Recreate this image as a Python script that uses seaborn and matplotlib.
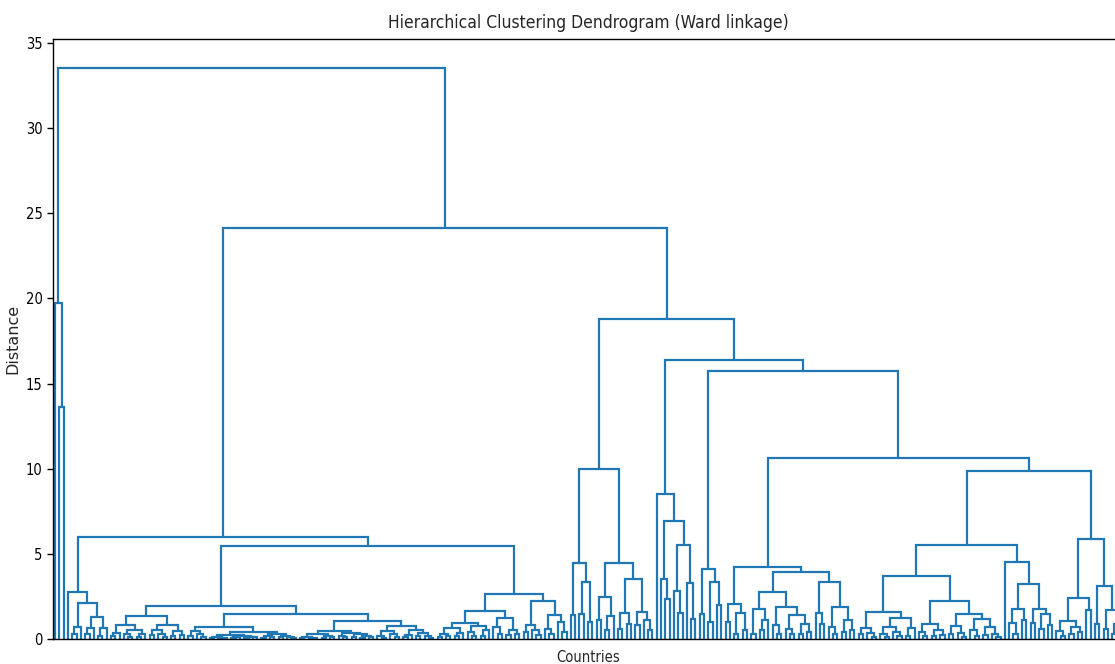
import matplotlib
matplotlib.use("Agg")
import matplotlib.pyplot as plt
import seaborn as sns
import pandas as pd

# ---------------- data: merge trees (leaf = 0, merge = [distance, left, right]) -------------
OUTLIERS = [19.7, 0, [13.6, 0, 0]]

C1 = [2.76, 0, [2.1, [0.72, [0.3, 0, 0], 0],
                [1.3, [0.65, [0.3, 0, 0], 0], [0.62, [0.2, 0, 0], 0]]]]

C2A1 = [1.37,
        [0.82, [0.38, [0.15, 0, 0], 0],
               [0.55, [0.28, 0, [0.1, 0, 0]], [0.3, [0.12, 0, 0], 0]]],
        [0.8, [0.5, [0.22, 0, 0], [0.3, 0, [0.12, 0, 0]]],
              [0.45, [0.2, 0, 0], [0.25, 0, 0]]]]

C2A2_P = [0.69,
          [0.45, [0.2, 0, 0], [0.3, 0, [0.1, 0, 0]]],
          [0.42, [0.25, [0.12, [0.05, 0, 0], [0.08, 0, [0.03, 0, 0]]],
                        [0.18, [0.1, [0.04, 0, 0], 0], [0.14, [0.06, 0, 0], [0.09, 0, 0]]]],
                 [0.3, [0.15, [0.06, 0, 0], [0.09, 0, 0]],
                       [0.2, [0.1, 0, 0], [0.12, 0, [0.04, 0, 0]]]]]]

C2A2_Q = [1.08,
          [0.45, [0.3, [0.12, [0.05, 0, 0], [0.07, 0, [0.03, 0, 0]]],
                       [0.18, [0.08, 0, 0], [0.1, 0, 0]]],
                 [0.38, [0.2, 0, [0.1, 0, 0]],
                        [0.28, [0.12, 0, 0], [0.2, [0.07, 0, 0], [0.1, 0, 0]]]]],
          [0.76, [0.45, [0.2, 0, [0.05, 0, 0]], [0.3, 0, [0.1, 0, 0]]],
                 [0.55, [0.25, [0.1, 0, 0], 0], [0.35, [0.15, 0, 0], [0.2, 0, [0.08, 0, 0]]]]]]

C2B = [2.64,
       [1.66, [0.96, [0.64, [0.3, [0.1, 0, 0], [0.15, 0, 0]], [0.35, [0.15, 0, 0], 0]],
                     [0.78, [0.4, 0, [0.2, 0, 0]], [0.5, [0.2, 0, 0], 0]]],
              [1.21, [0.7, 0, [0.3, 0, 0]], [0.5, [0.25, 0, 0], [0.3, 0, 0]]]],
       [2.23, [0.82, [0.4, 0, 0], [0.5, 0, [0.25, 0, 0]]],
              [1.4, [0.6, 0, [0.3, 0, 0]], [1.0, 0, [0.4, 0, 0]]]]]

D1 = [10.0,
      [4.45, [1.4, 0, 0], [3.35, [1.47, 0, 0], [1.0, 0, 0]]],
      [4.45, [2.45, [1.1, 0, 0], [1.35, [0.5, 0, 0], 0]],
             [3.5, [1.5, [0.6, 0, 0], [0.9, 0, 0]],
                   [1.6, [0.8, 0, 0], [1.1, 0, [0.5, 0, 0]]]]]]

D2A = [8.5, 0, [6.95, [3.5, 0, [2.35, 0, 0]],
                [5.5, [2.82, 0, [1.5, 0, 0]], [3.3, 0, [1.2, 0, 0]]]]]

D2B1 = [4.1, [1.47, 0, 0], [3.35, [1.0, 0, 0], [2.0, 0, 0]]]

E = [4.23,
     [2.05, [1.02, 0, 0], [1.5, [0.3, 0, 0], [0.5, 0, 0]]],
     [3.94, [2.74, [1.74, [0.3, 0, 0], [1.1, [0.5, 0, 0], 0]],
                   [1.86, [0.8, 0, [0.3, 0, 0]],
                          [1.43, [0.6, 0, [0.3, 0, 0]], [0.9, [0.3, 0, 0], [0.4, 0, 0]]]]],
            [3.37, [1.55, 0, [0.9, 0, 0]],
                   [1.9, [0.7, 0, [0.3, 0, 0]], [1.1, [0.4, 0, 0], [0.5, 0, 0]]]]]]

FLL = [3.72,
       [1.57, [0.63, [0.3, 0, 0], [0.35, 0, [0.1, 0, 0]]],
              [1.21, [0.72, [0.3, 0, [0.1, 0, 0]], [0.4, 0, [0.15, 0, 0]]],
                     [0.65, [0.2, 0, 0], 0]]],
       [2.23, [0.88, [0.4, 0, [0.15, 0, 0]], [0.5, [0.2, 0, 0], [0.25, 0, 0]]],
              [1.47, [0.76, [0.3, 0, 0], [0.35, 0, [0.1, 0, 0]]],
                     [1.16, [0.5, 0, [0.2, 0, 0]], [0.7, [0.25, 0, 0], [0.3, 0, [0.1, 0, 0]]]]]]]

FLR = [4.5, 0, [3.2, [1.74, [0.92, 0, [0.3, 0, 0]], [1.1, 0, 0]],
                [1.74, [0.92, 0, 0], [1.47, [0.6, 0, 0], [0.8, 0, 0]]]]]

FR = [5.87,
      [2.39, [1.06, [0.45, 0, [0.2, 0, 0]], [0.7, [0.3, 0, 0], [0.4, 0, 0]]], [1.7, 0, 0]],
      [3.11, [0.9, 0, 0], [1.7, [0.6, 0, 0], [0.9, [0.3, 0, 0], 0]]]]

# upper merges
CLUSTER_C = [5.99, C1, [5.46, [1.94, C2A1, [1.47, C2A2_P, C2A2_Q]], C2B]]
CLUSTER_F = [9.86, [5.5, FLL, FLR], FR]
CLUSTER_D = [18.79, D1, [16.38, D2A, [15.74, D2B1, [10.63, E, CLUSTER_F]]]]
ROOT = [33.55, OUTLIERS, [24.13, CLUSTER_C, CLUSTER_D]]

TITLE = "Hierarchical Clustering Dendrogram (Ward linkage)"
XLABEL = "Countries"
YLABEL = "Distance"

# ---------------- layout of the tree (scipy-like: leaves at 5, 15, 25, ...) -------------
rows = []
counter = [0]
links = [0]


def place(node):
    if node == 0:
        x = 5.0 + 10.0 * counter[0]
        counter[0] += 1
        return x, 0.0
    h, left, right = node
    xl, hl = place(left)
    xr, hr = place(right)
    link = links[0]
    links[0] += 1
    for k, (xx, yy) in enumerate([(xl, hl), (xl, h), (xr, h), (xr, hr)]):
        rows.append((link, k, xx, yy))
    return (xl + xr) / 2.0, h


place(ROOT)
n_leaves = counter[0]
df = pd.DataFrame(rows, columns=["link", "order", "x", "y"])

# ---------------- drawing -------------
sns.set_style("ticks")
plt.rcParams["font.family"] = ["DejaVu Sans"]
plt.rcParams["font.stretch"] = "condensed"

W, H = 1115, 664
fig = plt.figure(figsize=(W / 100, H / 100), dpi=100)
fig.patch.set_facecolor("white")
ax = fig.add_axes([53 / W, 25 / H, 1070 / W, 600 / H])

sns.lineplot(data=df, x="x", y="y", units="link", estimator=None, sort=False,
             color="#1f77b4", linewidth=1.6, ax=ax, legend=False,
             solid_joinstyle="miter", solid_capstyle="butt")

ax.set_xlim(0, 10 * n_leaves)
ax.set_ylim(0, ROOT[0] * 1.05)
ax.set_xticks([])
ax.set_yticks([0, 5, 10, 15, 20, 25, 30, 35])
ax.tick_params(axis="y", labelsize=10.5, length=4, width=1, colors="black")
for s in ax.spines.values():
    s.set_color("black")
    s.set_linewidth(1.0)
    s.set_visible(True)

ax.set_title(TITLE, fontsize=12.5, pad=8)
ax.set_xlabel(XLABEL, fontsize=10.5, labelpad=8)
ax.set_ylabel(YLABEL, fontsize=11.5, labelpad=4, fontstretch="normal")

fig.savefig("out.png", dpi=100, facecolor="white")
